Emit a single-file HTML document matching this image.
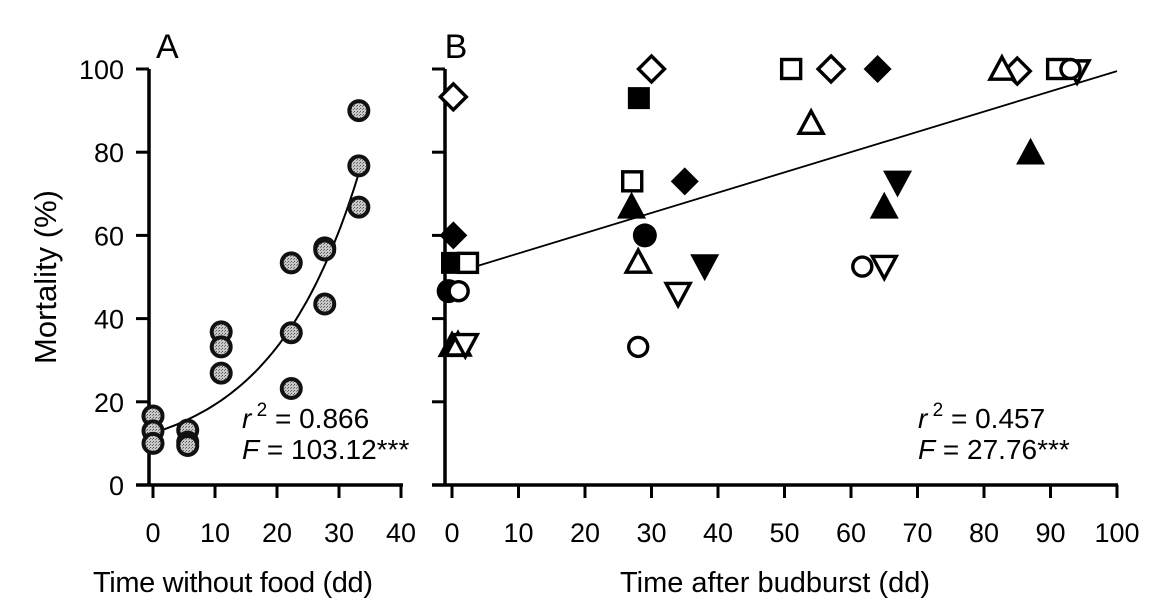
<!DOCTYPE html>
<html><head><meta charset="utf-8"><style>
html,body{margin:0;padding:0;background:#fff;}
svg{display:block;font-family:"Liberation Sans",Arial,sans-serif;}
</style></head><body>
<svg id="chart" width="1176" height="607" viewBox="0 0 1176 607" xmlns="http://www.w3.org/2000/svg">
<defs>
<pattern id="stip" width="3" height="3" patternUnits="userSpaceOnUse"><rect width="3" height="3" fill="#c8c8c8"/><rect width="1" height="1" fill="#555"/><rect x="2" y="1" width="1" height="1" fill="#777"/></pattern>
</defs>
<g id="axes"></g>
<g id="marks"></g>
<text transform="translate(56,277) rotate(-90)" text-anchor="middle" font-size="31">Mortality (%)</text>
<text x="156" y="58" font-size="34">A</text>
<text x="456" y="58" font-size="34" text-anchor="middle">B</text>
<text x="93" y="592" font-size="29" textLength="280">Time without food (dd)</text>
<text x="775" y="592" font-size="29" text-anchor="middle">Time after budburst (dd)</text>
<text x="242" y="428" font-size="28"><tspan font-style="italic">r</tspan><tspan dy="-12" font-size="19"> 2</tspan><tspan dy="12"> = 0.866</tspan></text>
<text x="242" y="459" font-size="28"><tspan font-style="italic">F</tspan> = 103.12***</text>
<text x="918" y="428" font-size="28"><tspan font-style="italic">r</tspan><tspan dy="-12" font-size="19"> 2</tspan><tspan dy="12"> = 0.457</tspan></text>
<text x="918" y="459" font-size="28"><tspan font-style="italic">F</tspan> = 27.76***</text>
</svg>
<script>
const yTicks = [0,20,40,60,80,100];
const xTicksA = [0,10,20,30,40];
const xTicksB = [0,10,20,30,40,50,60,70,80,90,100];
const aX = [0,0,0,5.6,5.6,5.6,11,11,11,22.3,22.3,22.3,27.7,27.7,27.7,33.2,33.2,33.2];
const aY = [16.6,13,10,13.2,10.3,9.5,36.8,33.2,26.9,53.4,36.6,23.2,57,56.5,43.5,90,76.7,66.8];
const fitA = {c:5.7, a:6.78, b:0.07, xmax:33};
const fitB = {intercept:50.8, slope:0.487, xmin:3, xmax:100};
const bType = ['odiam','odiam','odiam','odiam','fsq','fsq','osq','osq','osq','osq','fdiam','fdiam','fdiam','ftri','ftri','ftri','ftri','fcirc','fcirc','otri','otri','otri','otri','fdown','fdown','odown','odown','odown','odown','ocirc','ocirc','ocirc','ocirc'];
const bX = [0.2,30,57,85,28.1,0,27.1,2.4,51,91,35,0.2,64,27,0,87,65,29,-0.5,28,0.9,54,82.7,38,67,34,2,65,94,28,1,61.7,93];
const bY = [93.3,100,100,99.5,93,53.4,73,53.4,100,100,73,60,100,67,33.7,80,67,60,46.6,53.6,33.7,87,100,52.5,72.6,46,33.7,52.5,99.5,33.2,46.6,52.5,100];

const NS='http://www.w3.org/2000/svg';
const yS = v => 485 - v*4.16;
const xA = v => 153 + v*6.2;
const xB = v => 452 + v*6.65;
const axes=document.getElementById('axes'), marks=document.getElementById('marks');
function mk(tag,attrs,parent){const e=document.createElementNS(NS,tag);for(const k in attrs)e.setAttribute(k,attrs[k]);parent.appendChild(e);return e;}

function drawAxes(x0, xTicks, xs, xEnd, suffix){
  let l=mk('line',{x1:x0,y1:yS(100),x2:x0,y2:486,stroke:'#000','stroke-width':3.5},axes);
  
  
  l=mk('line',{x1:x0-13,y1:485,x2:xEnd,y2:485,stroke:'#000','stroke-width':3.5},axes);
  
  
  yTicks.forEach(t=>{
    const tk=mk('line',{x1:x0-13,y1:yS(t),x2:x0,y2:yS(t),stroke:'#000','stroke-width':3},axes);
    
    
    if(suffix==='a'){
      const tx=mk('text',{x:124,y:yS(t)+10,'text-anchor':'end','font-size':27},axes);
      tx.textContent=t;
      
      
    }
  });
  xTicks.forEach(t=>{
    const tk=mk('line',{x1:xs(t),y1:485,x2:xs(t),y2:498,stroke:'#000','stroke-width':3},axes);
    
    
    const tx=mk('text',{x:xs(t),y:542,'text-anchor':'middle','font-size':27},axes);
    tx.textContent=t;
    
    
  });
}
drawAxes(149,xTicksA,xA,403,'a');
drawAxes(445,xTicksB,xB,1118,'b');

let d='';
for(let i=0;i<=60;i++){const x=fitA.xmax*i/60;const y=fitA.c+fitA.a*Math.exp(fitA.b*x);d+=(i?'L':'M')+xA(x).toFixed(1)+','+yS(y).toFixed(1);}
let p=mk('path',{d:d,fill:'none',stroke:'#000','stroke-width':2},marks);


p=mk('line',{x1:xB(fitB.xmin),y1:yS(fitB.intercept+fitB.slope*fitB.xmin),x2:xB(fitB.xmax),y2:yS(fitB.intercept+fitB.slope*fitB.xmax),stroke:'#000','stroke-width':1.8},marks);



aX.forEach((x,i)=>{
  const c=mk('circle',{cx:xA(x),cy:yS(aY[i]),r:9.5,fill:'url(#stip)',stroke:'#111','stroke-width':4},marks);
  
  
});

bType.forEach((t,i)=>{
  const cx=xB(bX[i]), cy=yS(bY[i]);
  const filled=t[0]==='f';
  const fill=filled?'#000':'#fff';
  const sw=3.4;
  let e;
  if(t.endsWith('diam')){
    const s=filled?14:13;
    e=mk('polygon',{points:`${cx},${cy-s} ${cx+s},${cy} ${cx},${cy+s} ${cx-s},${cy}`,fill:fill,stroke:'#000','stroke-width':filled?0:sw},marks);
  } else if(t.endsWith('sq')){
    const s=filled?11:9.5;
    e=mk('rect',{x:cx-s,y:cy-s,width:2*s,height:2*s,fill:fill,stroke:'#000','stroke-width':filled?0:sw},marks);
  } else if(t.endsWith('circ')){
    e=mk('circle',{cx:cx,cy:cy,r:filled?12:9.5,fill:fill,stroke:'#000','stroke-width':filled?0:sw},marks);
  } else if(t.endsWith('tri')){
    const s=filled?14.5:12;
    e=mk('polygon',{points:`${cx},${cy-s} ${cx+s},${cy+s*0.85} ${cx-s},${cy+s*0.85}`,fill:fill,stroke:'#000','stroke-width':filled?0:sw},marks);
  } else {
    const s=filled?14.5:12;
    e=mk('polygon',{points:`${cx},${cy+s} ${cx+s},${cy-s*0.85} ${cx-s},${cy-s*0.85}`,fill:fill,stroke:'#000','stroke-width':filled?0:sw},marks);
  }
  
  
});
</script>
</body></html>
